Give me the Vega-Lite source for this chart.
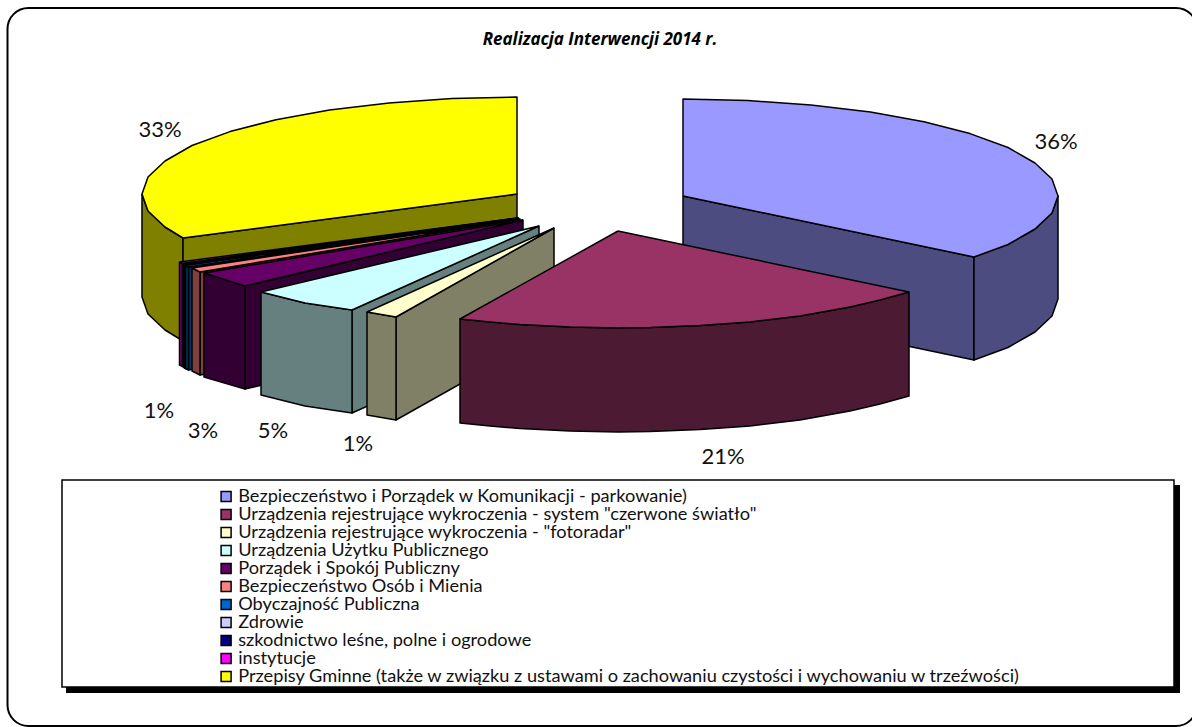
{"$schema":"https://vega.github.io/schema/vega-lite/v6.json","width":1192,"height":727,"padding":0,"autosize":"none","background":"white",
"title":{"text":"Realizacja Interwencji 2014 r.","font":"Open Sans","fontSize":17,"fontStyle":"italic","fontWeight":"bold","color":"black","frame":"group","anchor":"middle","dx":4,"offset":-49},
"config":{"view":{"stroke":null}},
"datasets":{"polygons":[
{"p":1,"s":"bok 1","k":1,"x":683,"y":196},{"p":1,"s":"bok 1","k":2,"x":974,"y":257},{"p":1,"s":"bok 1","k":3,"x":974,"y":360},{"p":1,"s":"bok 1","k":4,"x":683,"y":299},{"p":1,"s":"bok 1","k":5,"x":683,"y":196},
{"p":2,"s":"bok 1","k":1,"x":974,"y":257},{"p":2,"s":"bok 1","k":2,"x":1008,"y":244.5},{"p":2,"s":"bok 1","k":3,"x":1035,"y":229},{"p":2,"s":"bok 1","k":4,"x":1052,"y":213},{"p":2,"s":"bok 1","k":5,"x":1058,"y":196},{"p":2,"s":"bok 1","k":6,"x":1058,"y":299},{"p":2,"s":"bok 1","k":7,"x":1052,"y":316},{"p":2,"s":"bok 1","k":8,"x":1035,"y":332},{"p":2,"s":"bok 1","k":9,"x":1008,"y":347.5},{"p":2,"s":"bok 1","k":10,"x":974,"y":360},{"p":2,"s":"bok 1","k":11,"x":974,"y":257},
{"p":3,"s":"Bezpieczeństwo i Porządek w Komunikacji - parkowanie)","k":1,"x":683,"y":196},{"p":3,"s":"Bezpieczeństwo i Porządek w Komunikacji - parkowanie)","k":2,"x":683,"y":99},{"p":3,"s":"Bezpieczeństwo i Porządek w Komunikacji - parkowanie)","k":3,"x":748,"y":100.5},{"p":3,"s":"Bezpieczeństwo i Porządek w Komunikacji - parkowanie)","k":4,"x":811,"y":105},{"p":3,"s":"Bezpieczeństwo i Porządek w Komunikacji - parkowanie)","k":5,"x":870.5,"y":112},{"p":3,"s":"Bezpieczeństwo i Porządek w Komunikacji - parkowanie)","k":6,"x":924,"y":121.7},{"p":3,"s":"Bezpieczeństwo i Porządek w Komunikacji - parkowanie)","k":7,"x":970,"y":133.6},{"p":3,"s":"Bezpieczeństwo i Porządek w Komunikacji - parkowanie)","k":8,"x":1008,"y":147.5},{"p":3,"s":"Bezpieczeństwo i Porządek w Komunikacji - parkowanie)","k":9,"x":1035,"y":163},{"p":3,"s":"Bezpieczeństwo i Porządek w Komunikacji - parkowanie)","k":10,"x":1052,"y":179},{"p":3,"s":"Bezpieczeństwo i Porządek w Komunikacji - parkowanie)","k":11,"x":1058,"y":196},{"p":3,"s":"Bezpieczeństwo i Porządek w Komunikacji - parkowanie)","k":12,"x":1052,"y":213},{"p":3,"s":"Bezpieczeństwo i Porządek w Komunikacji - parkowanie)","k":13,"x":1035,"y":229},{"p":3,"s":"Bezpieczeństwo i Porządek w Komunikacji - parkowanie)","k":14,"x":1008,"y":244.5},{"p":3,"s":"Bezpieczeństwo i Porządek w Komunikacji - parkowanie)","k":15,"x":974,"y":257},{"p":3,"s":"Bezpieczeństwo i Porządek w Komunikacji - parkowanie)","k":16,"x":683,"y":196},

{"p":4,"s":"bok 11","k":1,"x":142,"y":194},{"p":4,"s":"bok 11","k":2,"x":148,"y":211},{"p":4,"s":"bok 11","k":3,"x":165,"y":227},{"p":4,"s":"bok 11","k":4,"x":183,"y":238},{"p":4,"s":"bok 11","k":5,"x":183,"y":341},{"p":4,"s":"bok 11","k":6,"x":165,"y":330},{"p":4,"s":"bok 11","k":7,"x":148,"y":314},{"p":4,"s":"bok 11","k":8,"x":142,"y":297},{"p":4,"s":"bok 11","k":9,"x":142,"y":194},
{"p":5,"s":"bok 11","k":1,"x":183,"y":238},{"p":5,"s":"bok 11","k":2,"x":517,"y":194},{"p":5,"s":"bok 11","k":3,"x":517,"y":297},{"p":5,"s":"bok 11","k":4,"x":183,"y":341},{"p":5,"s":"bok 11","k":5,"x":183,"y":238},
{"p":6,"s":"Przepisy Gminne (także w związku z ustawami o zachowaniu czystości i wychowaniu w trzeźwości)","k":1,"x":517,"y":194},{"p":6,"s":"Przepisy Gminne (także w związku z ustawami o zachowaniu czystości i wychowaniu w trzeźwości)","k":2,"x":517,"y":97},{"p":6,"s":"Przepisy Gminne (także w związku z ustawami o zachowaniu czystości i wychowaniu w trzeźwości)","k":3,"x":452,"y":98.5},{"p":6,"s":"Przepisy Gminne (także w związku z ustawami o zachowaniu czystości i wychowaniu w trzeźwości)","k":4,"x":389,"y":103},{"p":6,"s":"Przepisy Gminne (także w związku z ustawami o zachowaniu czystości i wychowaniu w trzeźwości)","k":5,"x":329.5,"y":110},{"p":6,"s":"Przepisy Gminne (także w związku z ustawami o zachowaniu czystości i wychowaniu w trzeźwości)","k":6,"x":276,"y":119.7},{"p":6,"s":"Przepisy Gminne (także w związku z ustawami o zachowaniu czystości i wychowaniu w trzeźwości)","k":7,"x":230,"y":131.6},{"p":6,"s":"Przepisy Gminne (także w związku z ustawami o zachowaniu czystości i wychowaniu w trzeźwości)","k":8,"x":192,"y":145.5},{"p":6,"s":"Przepisy Gminne (także w związku z ustawami o zachowaniu czystości i wychowaniu w trzeźwości)","k":9,"x":165,"y":161},{"p":6,"s":"Przepisy Gminne (także w związku z ustawami o zachowaniu czystości i wychowaniu w trzeźwości)","k":10,"x":148,"y":177},{"p":6,"s":"Przepisy Gminne (także w związku z ustawami o zachowaniu czystości i wychowaniu w trzeźwości)","k":11,"x":142,"y":194},{"p":6,"s":"Przepisy Gminne (także w związku z ustawami o zachowaniu czystości i wychowaniu w trzeźwości)","k":12,"x":148,"y":211},{"p":6,"s":"Przepisy Gminne (także w związku z ustawami o zachowaniu czystości i wychowaniu w trzeźwości)","k":13,"x":165,"y":227},{"p":6,"s":"Przepisy Gminne (także w związku z ustawami o zachowaniu czystości i wychowaniu w trzeźwości)","k":14,"x":183,"y":238},{"p":6,"s":"Przepisy Gminne (także w związku z ustawami o zachowaniu czystości i wychowaniu w trzeźwości)","k":15,"x":517,"y":194},

{"p":7,"s":"bok 10","k":1,"x":182.5,"y":263.5},{"p":7,"s":"bok 10","k":2,"x":517.5,"y":218},{"p":7,"s":"bok 10","k":3,"x":517.5,"y":321},{"p":7,"s":"bok 10","k":4,"x":182.5,"y":366.5},{"p":7,"s":"bok 10","k":5,"x":182.5,"y":263.5},
{"p":8,"s":"bok 10","k":1,"x":179.5,"y":262},{"p":8,"s":"bok 10","k":2,"x":182.5,"y":263.5},{"p":8,"s":"bok 10","k":3,"x":182.5,"y":366.5},{"p":8,"s":"bok 10","k":4,"x":179.5,"y":365},{"p":8,"s":"bok 10","k":5,"x":179.5,"y":262},
{"p":9,"s":"instytucje","k":1,"x":517.5,"y":218},{"p":9,"s":"instytucje","k":2,"x":182.5,"y":263.5},{"p":9,"s":"instytucje","k":3,"x":179.5,"y":262},{"p":9,"s":"instytucje","k":4,"x":517.5,"y":218},

{"p":10,"s":"bok 9","k":1,"x":184.5,"y":265},{"p":10,"s":"bok 9","k":2,"x":518,"y":218.2},{"p":10,"s":"bok 9","k":3,"x":518,"y":321},{"p":10,"s":"bok 9","k":4,"x":184.5,"y":368},{"p":10,"s":"bok 9","k":5,"x":184.5,"y":265},
{"p":11,"s":"bok 9","k":1,"x":182.5,"y":263.5},{"p":11,"s":"bok 9","k":2,"x":184.5,"y":265},{"p":11,"s":"bok 9","k":3,"x":184.5,"y":368},{"p":11,"s":"bok 9","k":4,"x":182.5,"y":366.5},{"p":11,"s":"bok 9","k":5,"x":182.5,"y":263.5},
{"p":12,"s":"szkodnictwo leśne, polne i ogrodowe","k":1,"x":518,"y":218.2},{"p":12,"s":"szkodnictwo leśne, polne i ogrodowe","k":2,"x":184.5,"y":265},{"p":12,"s":"szkodnictwo leśne, polne i ogrodowe","k":3,"x":182.5,"y":263.5},{"p":12,"s":"szkodnictwo leśne, polne i ogrodowe","k":4,"x":518,"y":218.2},

{"p":13,"s":"bok 8","k":1,"x":185.5,"y":265.5},{"p":13,"s":"bok 8","k":2,"x":518.5,"y":218.3},{"p":13,"s":"bok 8","k":3,"x":518.5,"y":321},{"p":13,"s":"bok 8","k":4,"x":185.5,"y":368.5},{"p":13,"s":"bok 8","k":5,"x":185.5,"y":265.5},
{"p":14,"s":"bok 8","k":1,"x":184.5,"y":265},{"p":14,"s":"bok 8","k":2,"x":185.5,"y":265.5},{"p":14,"s":"bok 8","k":3,"x":185.5,"y":368.5},{"p":14,"s":"bok 8","k":4,"x":184.5,"y":368},{"p":14,"s":"bok 8","k":5,"x":184.5,"y":265},
{"p":15,"s":"Zdrowie","k":1,"x":518.5,"y":218.3},{"p":15,"s":"Zdrowie","k":2,"x":185.5,"y":265.5},{"p":15,"s":"Zdrowie","k":3,"x":184.5,"y":265},{"p":15,"s":"Zdrowie","k":4,"x":518.5,"y":218.3},

{"p":16,"s":"bok 7","k":1,"x":188.5,"y":267},{"p":16,"s":"bok 7","k":2,"x":519,"y":218.5},{"p":16,"s":"bok 7","k":3,"x":519,"y":321.5},{"p":16,"s":"bok 7","k":4,"x":188.5,"y":370},{"p":16,"s":"bok 7","k":5,"x":188.5,"y":267},
{"p":17,"s":"bok 7","k":1,"x":185.5,"y":265.5},{"p":17,"s":"bok 7","k":2,"x":188.5,"y":267},{"p":17,"s":"bok 7","k":3,"x":188.5,"y":370},{"p":17,"s":"bok 7","k":4,"x":185.5,"y":368.5},{"p":17,"s":"bok 7","k":5,"x":185.5,"y":265.5},
{"p":18,"s":"Obyczajność Publiczna","k":1,"x":519,"y":218.5},{"p":18,"s":"Obyczajność Publiczna","k":2,"x":188.5,"y":267},{"p":18,"s":"Obyczajność Publiczna","k":3,"x":185.5,"y":265.5},{"p":18,"s":"Obyczajność Publiczna","k":4,"x":519,"y":218.5},

{"p":19,"s":"bok 6","k":1,"x":200,"y":272},{"p":19,"s":"bok 6","k":2,"x":520,"y":219},{"p":19,"s":"bok 6","k":3,"x":520,"y":322},{"p":19,"s":"bok 6","k":4,"x":200,"y":375},{"p":19,"s":"bok 6","k":5,"x":200,"y":272},
{"p":20,"s":"bok 6","k":1,"x":192,"y":268},{"p":20,"s":"bok 6","k":2,"x":200,"y":272},{"p":20,"s":"bok 6","k":3,"x":200,"y":375},{"p":20,"s":"bok 6","k":4,"x":192,"y":371},{"p":20,"s":"bok 6","k":5,"x":192,"y":268},
{"p":21,"s":"Bezpieczeństwo  Osób i Mienia","k":1,"x":520,"y":219},{"p":21,"s":"Bezpieczeństwo  Osób i Mienia","k":2,"x":200,"y":272},{"p":21,"s":"Bezpieczeństwo  Osób i Mienia","k":3,"x":192,"y":268},{"p":21,"s":"Bezpieczeństwo  Osób i Mienia","k":4,"x":520,"y":219},

{"p":22,"s":"bok 5","k":1,"x":245,"y":286},{"p":22,"s":"bok 5","k":2,"x":523,"y":220},{"p":22,"s":"bok 5","k":3,"x":523,"y":323},{"p":22,"s":"bok 5","k":4,"x":245,"y":389},{"p":22,"s":"bok 5","k":5,"x":245,"y":286},
{"p":23,"s":"bok 5","k":1,"x":204,"y":273},{"p":23,"s":"bok 5","k":2,"x":245,"y":286},{"p":23,"s":"bok 5","k":3,"x":245,"y":389},{"p":23,"s":"bok 5","k":4,"x":204,"y":377},{"p":23,"s":"bok 5","k":5,"x":204,"y":273},
{"p":24,"s":"Porządek i Spokój Publiczny","k":1,"x":523,"y":220},{"p":24,"s":"Porządek i Spokój Publiczny","k":2,"x":245,"y":286},{"p":24,"s":"Porządek i Spokój Publiczny","k":3,"x":204,"y":273},{"p":24,"s":"Porządek i Spokój Publiczny","k":4,"x":523,"y":220},

{"p":25,"s":"bok 4","k":1,"x":352,"y":310},{"p":25,"s":"bok 4","k":2,"x":539,"y":226},{"p":25,"s":"bok 4","k":3,"x":539,"y":329},{"p":25,"s":"bok 4","k":4,"x":352,"y":413},{"p":25,"s":"bok 4","k":5,"x":352,"y":310},
{"p":26,"s":"bok 4","k":1,"x":261,"y":292},{"p":26,"s":"bok 4","k":2,"x":305,"y":303},{"p":26,"s":"bok 4","k":3,"x":352,"y":310},{"p":26,"s":"bok 4","k":4,"x":352,"y":413},{"p":26,"s":"bok 4","k":5,"x":305,"y":406},{"p":26,"s":"bok 4","k":6,"x":261,"y":395},{"p":26,"s":"bok 4","k":7,"x":261,"y":292},
{"p":27,"s":"Urządzenia Użytku Publicznego","k":1,"x":539,"y":226},{"p":27,"s":"Urządzenia Użytku Publicznego","k":2,"x":352,"y":310},{"p":27,"s":"Urządzenia Użytku Publicznego","k":3,"x":305,"y":303},{"p":27,"s":"Urządzenia Użytku Publicznego","k":4,"x":261,"y":292},{"p":27,"s":"Urządzenia Użytku Publicznego","k":5,"x":539,"y":226},

{"p":28,"s":"bok 3","k":1,"x":396,"y":317},{"p":28,"s":"bok 3","k":2,"x":554,"y":228},{"p":28,"s":"bok 3","k":3,"x":554,"y":331},{"p":28,"s":"bok 3","k":4,"x":396,"y":420},{"p":28,"s":"bok 3","k":5,"x":396,"y":317},
{"p":29,"s":"bok 3","k":1,"x":367,"y":312},{"p":29,"s":"bok 3","k":2,"x":396,"y":317},{"p":29,"s":"bok 3","k":3,"x":396,"y":420},{"p":29,"s":"bok 3","k":4,"x":367,"y":415},{"p":29,"s":"bok 3","k":5,"x":367,"y":312},
{"p":30,"s":"Urządzenia rejestrujące wykroczenia - \"fotoradar\"","k":1,"x":554,"y":228},{"p":30,"s":"Urządzenia rejestrujące wykroczenia - \"fotoradar\"","k":2,"x":396,"y":317},{"p":30,"s":"Urządzenia rejestrujące wykroczenia - \"fotoradar\"","k":3,"x":367,"y":312},{"p":30,"s":"Urządzenia rejestrujące wykroczenia - \"fotoradar\"","k":4,"x":554,"y":228},

{"p":31,"s":"bok 2","k":1,"x":909,"y":292},{"p":31,"s":"bok 2","k":2,"x":880,"y":300},{"p":31,"s":"bok 2","k":3,"x":850,"y":307},{"p":31,"s":"bok 2","k":4,"x":800,"y":316},{"p":31,"s":"bok 2","k":5,"x":750,"y":322},{"p":31,"s":"bok 2","k":6,"x":700,"y":325.6},{"p":31,"s":"bok 2","k":7,"x":650,"y":327.6},{"p":31,"s":"bok 2","k":8,"x":618,"y":328},{"p":31,"s":"bok 2","k":9,"x":570,"y":327},{"p":31,"s":"bok 2","k":10,"x":520,"y":324.6},{"p":31,"s":"bok 2","k":11,"x":490,"y":322},{"p":31,"s":"bok 2","k":12,"x":460,"y":319},{"p":31,"s":"bok 2","k":13,"x":460,"y":423},{"p":31,"s":"bok 2","k":14,"x":490,"y":426},{"p":31,"s":"bok 2","k":15,"x":520,"y":428.6},{"p":31,"s":"bok 2","k":16,"x":570,"y":431},{"p":31,"s":"bok 2","k":17,"x":618,"y":432},{"p":31,"s":"bok 2","k":18,"x":650,"y":431.6},{"p":31,"s":"bok 2","k":19,"x":700,"y":429.6},{"p":31,"s":"bok 2","k":20,"x":750,"y":426},{"p":31,"s":"bok 2","k":21,"x":800,"y":420},{"p":31,"s":"bok 2","k":22,"x":850,"y":411},{"p":31,"s":"bok 2","k":23,"x":880,"y":404},{"p":31,"s":"bok 2","k":24,"x":909,"y":396},{"p":31,"s":"bok 2","k":25,"x":909,"y":292},
{"p":32,"s":"Urządzenia rejestrujące wykroczenia - system \"czerwone światło\"","k":1,"x":618,"y":231},{"p":32,"s":"Urządzenia rejestrujące wykroczenia - system \"czerwone światło\"","k":2,"x":909,"y":292},{"p":32,"s":"Urządzenia rejestrujące wykroczenia - system \"czerwone światło\"","k":3,"x":880,"y":300},{"p":32,"s":"Urządzenia rejestrujące wykroczenia - system \"czerwone światło\"","k":4,"x":850,"y":307},{"p":32,"s":"Urządzenia rejestrujące wykroczenia - system \"czerwone światło\"","k":5,"x":800,"y":316},{"p":32,"s":"Urządzenia rejestrujące wykroczenia - system \"czerwone światło\"","k":6,"x":750,"y":322},{"p":32,"s":"Urządzenia rejestrujące wykroczenia - system \"czerwone światło\"","k":7,"x":700,"y":325.6},{"p":32,"s":"Urządzenia rejestrujące wykroczenia - system \"czerwone światło\"","k":8,"x":650,"y":327.6},{"p":32,"s":"Urządzenia rejestrujące wykroczenia - system \"czerwone światło\"","k":9,"x":618,"y":328},{"p":32,"s":"Urządzenia rejestrujące wykroczenia - system \"czerwone światło\"","k":10,"x":570,"y":327},{"p":32,"s":"Urządzenia rejestrujące wykroczenia - system \"czerwone światło\"","k":11,"x":520,"y":324.6},{"p":32,"s":"Urządzenia rejestrujące wykroczenia - system \"czerwone światło\"","k":12,"x":490,"y":322},{"p":32,"s":"Urządzenia rejestrujące wykroczenia - system \"czerwone światło\"","k":13,"x":460,"y":319},{"p":32,"s":"Urządzenia rejestrujące wykroczenia - system \"czerwone światło\"","k":14,"x":618,"y":231}
]},
"layer":[
{"data":{"values":[{"x":7.5,"x2":1197,"y":8,"y2":726}]},"mark":{"type":"rect","fill":"white","stroke":"black","strokeWidth":2,"cornerRadius":21},
"encoding":{"x":{"field":"x","type":"quantitative","scale":{"domain":[0,1192],"nice":false,"zero":false},"axis":null},"x2":{"field":"x2"},"y":{"field":"y","type":"quantitative","scale":{"domain":[727,0],"nice":false,"zero":false},"axis":null},"y2":{"field":"y2"}}},
{"data":{"values":[{"x":66,"x2":1180,"y":485,"y2":693}]},"mark":{"type":"rect","fill":"black"},
"encoding":{"x":{"field":"x","type":"quantitative","axis":null},"x2":{"field":"x2"},"y":{"field":"y","type":"quantitative","axis":null},"y2":{"field":"y2"}}},
{"data":{"values":[{"x":62,"x2":1174,"y":480,"y2":687}]},"mark":{"type":"rect","fill":"white","stroke":"black","strokeWidth":1.5},
"encoding":{"x":{"field":"x","type":"quantitative","axis":null},"x2":{"field":"x2"},"y":{"field":"y","type":"quantitative","axis":null},"y2":{"field":"y2"}}},
{"data":{"name":"polygons"},"mark":{"type":"line","stroke":"black","strokeWidth":1.5,"strokeJoin":"round","interpolate":"linear"},
"encoding":{"x":{"field":"x","type":"quantitative","axis":null},"y":{"field":"y","type":"quantitative","axis":null},"order":{"field":"k","type":"quantitative"},"detail":{"field":"p","type":"nominal"},
"fill":{"field":"s","type":"nominal","scale":{"domain":["Bezpieczeństwo i Porządek w Komunikacji - parkowanie)","Urządzenia rejestrujące wykroczenia - system \"czerwone światło\"","Urządzenia rejestrujące wykroczenia - \"fotoradar\"","Urządzenia Użytku Publicznego","Porządek i Spokój Publiczny","Bezpieczeństwo  Osób i Mienia","Obyczajność Publiczna","Zdrowie","szkodnictwo leśne, polne i ogrodowe","instytucje","Przepisy Gminne (także w związku z ustawami o zachowaniu czystości i wychowaniu w trzeźwości)","bok 1","bok 2","bok 3","bok 4","bok 5","bok 6","bok 7","bok 8","bok 9","bok 10","bok 11"],
"range":["#9999FF","#993366","#FFFFCC","#CCFFFF","#660066","#FF8080","#0066CC","#CCCCFF","#000080","#FF00FF","#FFFF00","#4C4C80","#4C1A33","#808066","#668080","#330033","#804040","#003366","#666680","#000040","#800080","#808000"]},
"legend":{"values":["Bezpieczeństwo i Porządek w Komunikacji - parkowanie)","Urządzenia rejestrujące wykroczenia - system \"czerwone światło\"","Urządzenia rejestrujące wykroczenia - \"fotoradar\"","Urządzenia Użytku Publicznego","Porządek i Spokój Publiczny","Bezpieczeństwo  Osób i Mienia","Obyczajność Publiczna","Zdrowie","szkodnictwo leśne, polne i ogrodowe","instytucje","Przepisy Gminne (także w związku z ustawami o zachowaniu czystości i wychowaniu w trzeźwości)"],
"title":null,"orient":"none","legendX":217,"legendY":487.5,"symbolType":"square","symbolSize":100,"symbolStrokeColor":"black","symbolStrokeWidth":1.5,"symbolOpacity":1,"labelFont":"Lato","labelFontSize":18.2,"labelColor":"#111111","labelLimit":900,"rowPadding":-1.8,"labelOffset":3,"columns":1}}}},
{"data":{"values":[{"x":1056,"y":142,"t":"36%"},{"x":723,"y":457,"t":"21%"},{"x":358,"y":444,"t":"1%"},{"x":273,"y":431,"t":"5%"},{"x":203,"y":431,"t":"3%"},{"x":159,"y":411,"t":"1%"},{"x":160,"y":130,"t":"33%"}]},
"mark":{"type":"text","font":"Lato","fontSize":22,"color":"#111111","align":"center","baseline":"middle"},
"encoding":{"x":{"field":"x","type":"quantitative","axis":null},"y":{"field":"y","type":"quantitative","axis":null},"text":{"field":"t","type":"nominal"}}}
]}
